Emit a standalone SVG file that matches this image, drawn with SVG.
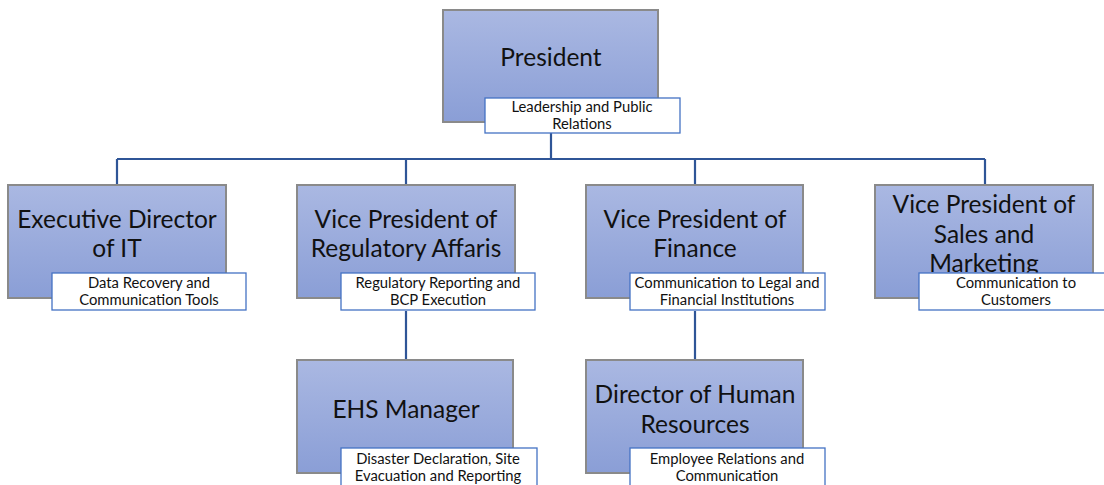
<svg xmlns="http://www.w3.org/2000/svg" width="1104" height="485" viewBox="0 0 1104 485">
<defs>
<linearGradient id="g" x1="0" y1="0" x2="0" y2="1">
<stop offset="0" stop-color="#AAB8E2"/>
<stop offset="1" stop-color="#8A9ED6"/>
</linearGradient>
</defs>
<style>
.box{fill:url(#g);stroke:#8A8A8A;stroke-width:2}
.lbl{fill:#FFFFFF;stroke:#4472C4;stroke-width:1.3}
.t{font-family:Lato,"Open Sans",sans-serif;font-size:24.5px;fill:#111;text-anchor:middle}
.s{font-family:Lato,"Open Sans",sans-serif;font-size:14.8px;fill:#111;text-anchor:middle}
.c{fill:none;stroke:#2F5597;stroke-width:2.2}
</style>
<rect width="1104" height="485" fill="#FFFFFF"/>
<g id="connectors">
<path class="c" d="M551 133V159M117 159H985M117 159V185M406 159V185M695 159V185M985 159V185M406 311V360M695 311V360"/>
</g>
<g id="president">
<rect class="box" x="443" y="10" width="215" height="112"/>
<text class="t" x="551" y="66">President</text>
<rect class="lbl" x="485" y="98" width="195" height="35"/>
<text class="s" x="582" y="112">Leadership and Public</text>
<text class="s" x="582" y="129">Relations</text>
</g>
<g id="exec-it">
<rect class="box" x="8" y="185" width="218" height="113"/>
<text class="t" x="117" y="228">Executive Director</text>
<text class="t" x="117" y="257">of IT</text>
<rect class="lbl" x="52" y="273" width="194" height="37"/>
<text class="s" x="149" y="288">Data Recovery and</text>
<text class="s" x="149" y="305">Communication Tools</text>
</g>
<g id="vp-regulatory">
<rect class="box" x="297" y="185" width="218" height="113"/>
<text class="t" x="406" y="228">Vice President of</text>
<text class="t" x="406" y="257">Regulatory Affaris</text>
<rect class="lbl" x="341" y="273" width="194" height="37"/>
<text class="s" x="438" y="288">Regulatory Reporting and</text>
<text class="s" x="438" y="305">BCP Execution</text>
</g>
<g id="vp-finance">
<rect class="box" x="586" y="185" width="217" height="113"/>
<text class="t" x="695" y="228">Vice President of</text>
<text class="t" x="695" y="257">Finance</text>
<rect class="lbl" x="630" y="273" width="195" height="37"/>
<text class="s" x="727" y="288">Communication to Legal and</text>
<text class="s" x="727" y="305">Financial Institutions</text>
</g>
<g id="vp-sales">
<rect class="box" x="875" y="185" width="218" height="113"/>
<text class="t" x="984" y="213">Vice President of</text>
<text class="t" x="984" y="243">Sales and</text>
<text class="t" x="984" y="272">Marketing</text>
<rect class="lbl" x="919" y="273" width="186" height="37"/>
<text class="s" x="1016" y="288">Communication to</text>
<text class="s" x="1016" y="305">Customers</text>
</g>
<g id="ehs-manager">
<rect class="box" x="297" y="360" width="216" height="113"/>
<text class="t" x="406" y="418">EHS Manager</text>
<rect class="lbl" x="341" y="448" width="196" height="40"/>
<text class="s" x="438" y="464">Disaster Declaration, Site</text>
<text class="s" x="438" y="481">Evacuation and Reporting</text>
</g>
<g id="director-hr">
<rect class="box" x="586" y="360" width="217" height="113"/>
<text class="t" x="695" y="403">Director of Human</text>
<text class="t" x="695" y="433">Resources</text>
<rect class="lbl" x="630" y="448" width="195" height="40"/>
<text class="s" x="727" y="464">Employee Relations and</text>
<text class="s" x="727" y="481">Communication</text>
</g>
</svg>
